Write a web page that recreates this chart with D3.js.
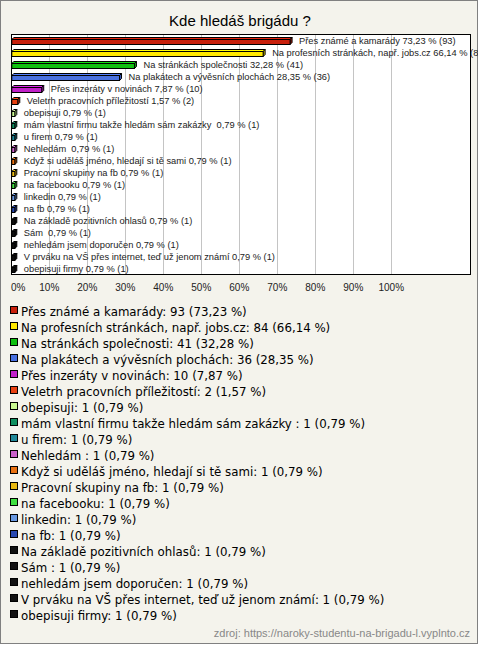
<!DOCTYPE html>
<html><head><meta charset="utf-8">
<script src="https://cdn.jsdelivr.net/npm/d3@7"></script>
<style>
html,body{margin:0;padding:0;background:#fff;}
svg text{white-space:pre;}
</style>
</head><body>
<svg id="chart" width="480" height="645"></svg>
<script>
const title = "Kde hledáš brigádu ?";
const categories = [
  "Přes známé a kamarády",
  "Na profesních stránkách, např. jobs.cz",
  "Na stránkách společnosti",
  "Na plakátech a vývěsních plochách",
  "Přes inzeráty v novinách",
  "Veletrh pracovních příležitostí",
  "obepisuji",
  "mám vlastní firmu takže hledám sám zakázky ",
  "u firem",
  "Nehledám ",
  "Když si uděláš jméno, hledají si tě sami",
  "Pracovní skupiny na fb",
  "na facebooku",
  "linkedin",
  "na fb",
  "Na základě pozitivních ohlasů",
  "Sám ",
  "nehledám jsem doporučen",
  "V prváku na VŠ přes internet, teď už jenom známí",
  "obepisuji firmy"
];
const counts = [93, 84, 41, 36, 10, 2, 1, 1, 1, 1, 1, 1, 1, 1, 1, 1, 1, 1, 1, 1];
const percents = [73.23, 66.14, 32.28, 28.35, 7.87, 1.57, 0.79, 0.79, 0.79, 0.79, 0.79, 0.79, 0.79, 0.79, 0.79, 0.79, 0.79, 0.79, 0.79, 0.79];
const colors = ["#c8200c", "#ffe800", "#10c010", "#4870e0", "#c020c8", "#e84010", "#c8f890", "#109060",
  "#208898", "#c860c8", "#e87010", "#e8b810", "#40e040", "#6898e0", "#2848b0",
  "#111111", "#111111", "#111111", "#111111", "#111111"];
const tickValues = [0, 10, 20, 30, 40, 50, 60, 70, 80, 90, 100];
const tickLabels = ["0%", "10%", "20%", "30%", "40%", "50%", "60%", "70%", "80%", "90%", "100%"];
const source = "zdroj: https://naroky-studentu-na-brigadu-l.vyplnto.cz";

const svg = d3.select("#chart");
const bg = "#f4f3ec";
const fmt = v => d3.format(".2f")(v).replace(".", ",");

// outer frame
svg.append("rect").attr("x", 0.5).attr("y", 0.5).attr("width", 477).attr("height", 643)
  .attr("fill", bg).attr("stroke", "#808080");

// title
svg.append("text").attr("x", 240).attr("y", 26).attr("text-anchor", "middle")
  .attr("font-family", "Liberation Sans, Arial, sans-serif").attr("font-size", 15)
  .attr("fill", "#000").text(title);

// plot area
const plot = {left: 11, top: 34, right: 470, bottom: 274};
const x = d3.scaleLinear().domain([0, 100]).range([11.3, 391.3]);
const y = d3.scaleBand().domain(categories.map((d, i) => i)).range([plot.top, plot.bottom]);

svg.append("defs").append("clipPath").attr("id", "clipAll")
  .append("rect").attr("x", 0).attr("y", 0).attr("width", 478).attr("height", 645);

svg.append("rect").attr("x", plot.left + 0.5).attr("y", plot.top + 0.5)
  .attr("width", plot.right - plot.left).attr("height", plot.bottom - plot.top)
  .attr("fill", "#fff");

// gridlines
svg.append("g").selectAll("line").data(tickValues.filter(d => d > 0)).join("line")
  .attr("x1", d => Math.round(x(d)) + 0.5).attr("x2", d => Math.round(x(d)) + 0.5)
  .attr("y1", plot.top).attr("y2", plot.bottom)
  .attr("stroke", "#c4c4c4").attr("stroke-width", 1);

// bars (3D)
const depth = 2;
const gBars = svg.append("g").attr("clip-path", "url(#clipAll)");
categories.forEach((c, i) => {
  const cy = y(i) + y.bandwidth() / 2 + 1;
  const x0 = x(0) + 0.5, x1 = Math.max(x(percents[i]), x(0) + 3) + 0.5;
  const yt = Math.round(cy - 2) + 0.5, yb = yt + 5;
  const col = d3.color(colors[i]);
  const g = gBars.append("g");
  g.append("polygon")
    .attr("points", [[x0, yt], [x0 + depth, yt - depth], [x1 + depth, yt - depth], [x1, yt]].join(" "))
    .attr("fill", col.brighter(0.4)).attr("stroke", "#000").attr("stroke-width", 1);
  g.append("polygon")
    .attr("points", [[x1, yt], [x1 + depth, yt - depth], [x1 + depth, yb - depth], [x1, yb]].join(" "))
    .attr("fill", col.darker(0.6)).attr("stroke", "#000").attr("stroke-width", 1);
  g.append("rect").attr("x", x0).attr("y", yt).attr("width", x1 - x0).attr("height", yb - yt)
    .attr("fill", col).attr("stroke", "#000").attr("stroke-width", 1);
  g.append("text").attr("x", x1 + depth + 7).attr("y", cy + 3)
    .attr("font-family", "Liberation Sans, Arial, sans-serif").attr("font-size", 9.3)
    .attr("fill", "#222")
    .text(c + " " + fmt(percents[i]) + " % (" + counts[i] + ")");
});

// plot border
svg.append("rect").attr("x", plot.left + 0.5).attr("y", plot.top + 0.5)
  .attr("width", plot.right - plot.left).attr("height", plot.bottom - plot.top)
  .attr("fill", "none").attr("stroke", "#000");

// x tick labels
svg.append("g").selectAll("text").data(tickValues).join("text")
  .attr("x", (d, i) => i === 0 ? plot.left : x(d))
  .attr("y", 291)
  .attr("text-anchor", (d, i) => i === 0 ? "start" : "middle")
  .attr("font-family", "Liberation Sans, Arial, sans-serif").attr("font-size", 10)
  .attr("fill", "#222")
  .text((d, i) => tickLabels[i]);

// legend
const lg = svg.append("g");
categories.forEach((c, i) => {
  const cy = 311 + i * 16;
  lg.append("rect").attr("x", 10.5).attr("y", cy - 4.5).attr("width", 7).attr("height", 7)
    .attr("fill", colors[i]).attr("stroke", "#000");
  lg.append("text").attr("x", 21).attr("y", cy + 4.5)
    .attr("font-family", "DejaVu Sans, sans-serif").attr("font-size", 11.8)
    .attr("fill", "#000")
    .text(c + ": " + counts[i] + " (" + fmt(percents[i]) + " %)");
});

// source
svg.append("text").attr("x", 470).attr("y", 637).attr("text-anchor", "end")
  .attr("font-family", "Liberation Sans, Arial, sans-serif").attr("font-size", 11)
  .attr("fill", "#888").text(source);
</script>
</body></html>
